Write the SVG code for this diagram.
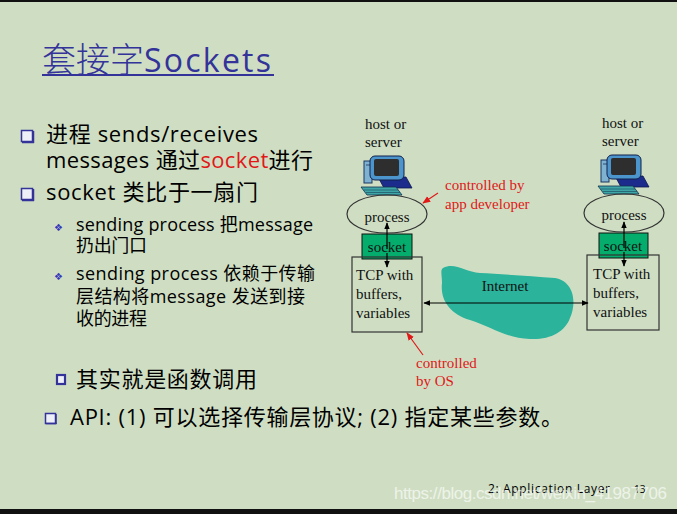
<svg xmlns="http://www.w3.org/2000/svg" width="677" height="514" viewBox="0 0 677 514">
<style>
.cjk{font-family:"Open Sans","Noto Sans CJK SC",sans-serif;}
.body{font-size:22px;fill:#000;}
.sub{font-size:18px;fill:#000;}
.ser{font-family:"Liberation Serif","Noto Sans CJK SC",serif;font-size:15px;fill:#111;}
.red{fill:#e01818;}
.box{fill:none;stroke:#333;stroke-width:1.2;}
.sock{fill:#05ad6d;stroke:#111;stroke-width:1;}
.bul{fill:#eef0f8;stroke:#333399;stroke-width:1.5;}
.ln{stroke:#000;stroke-width:1.2;fill:none;}
.rl{stroke:#e01818;stroke-width:1.2;fill:none;}
</style>
<defs>
<marker id="ah" viewBox="0 0 10 10" refX="9" refY="5" markerWidth="7" markerHeight="7" orient="auto-start-reverse" markerUnits="userSpaceOnUse">
<path d="M0,1 L10,5 L0,9 Z" fill="#000"/>
</marker>
<marker id="rh" viewBox="0 0 10 10" refX="9" refY="5" markerWidth="8" markerHeight="8" orient="auto" markerUnits="userSpaceOnUse">
<path d="M0,1 L10,5 L0,9 Z" fill="#e01818"/>
</marker>
<g id="pc">
<rect x="364" y="161" width="8" height="22" fill="#7fb2d0" stroke="#1a3560" stroke-width="1"/>
<line x1="366" y1="165" x2="370" y2="165" stroke="#1a3560" stroke-width="0.8"/>
<polygon points="378,177 406,177 412,188 384,188" fill="#1c2c8c" stroke="#0c1650" stroke-width="0.8"/>
<rect x="370" y="156" width="34" height="24" rx="5" fill="#4b94cc" stroke="#10204a" stroke-width="1"/>
<rect x="374" y="159" width="25" height="17" rx="2" fill="#2e2e2e"/>
<polygon points="361,187 396,187 402,195 367,195" fill="#3fa6a8" stroke="#10304a" stroke-width="0.8"/>
<line x1="364" y1="190" x2="398" y2="190" stroke="#10304a" stroke-width="0.5"/>
<line x1="366" y1="192.5" x2="400" y2="192.5" stroke="#10304a" stroke-width="0.5"/>
</g>
</defs>
<rect x="0" y="0" width="677" height="514" fill="#cfdec3"/>
<rect x="0" y="0" width="677" height="2" fill="#111"/>
<rect x="0" y="509" width="677" height="5" fill="#111"/>

<g id="title">
<text x="42" y="72" fill="#333399" class="cjk" font-size="32"><tspan font-size="34" font-family="Noto Sans CJK SC,sans-serif" font-weight="300">套接字</tspan><tspan textLength="127" lengthAdjust="spacing">Sockets</tspan></text>
<rect x="42" y="74" width="232" height="2" fill="#333399"/>
</g>

<g id="bullets">
<rect x="21.5" y="130.5" width="11" height="11" class="bul"/><line x1="33.5" y1="131" x2="33.5" y2="143" stroke="#333399" stroke-width="1.5"/><line x1="22" y1="142.5" x2="34" y2="142.5" stroke="#333399" stroke-width="1.5"/>
<text x="46" y="142" class="cjk body" textLength="212">进程 sends/receives</text>
<text x="46" y="168" class="cjk body" textLength="267">messages 通过<tspan class="red">socket</tspan>进行</text>
<rect x="21.5" y="188.5" width="11" height="11" class="bul"/><line x1="33.5" y1="189" x2="33.5" y2="201" stroke="#333399" stroke-width="1.5"/><line x1="22" y1="200.5" x2="34" y2="200.5" stroke="#333399" stroke-width="1.5"/>
<text x="46" y="200" class="cjk body" textLength="212">socket 类比于一扇门</text>

<text x="54" y="231" font-family="DejaVu Sans,sans-serif" font-size="10" fill="#3333bb">❖</text>
<text x="76" y="231" class="cjk sub" textLength="237">sending process 把message</text>
<text x="76" y="252" class="cjk sub" textLength="71">扔出门口</text>
<text x="54" y="280" font-family="DejaVu Sans,sans-serif" font-size="10" fill="#3333bb">❖</text>
<text x="76" y="280" class="cjk sub" textLength="239">sending process 依赖于传输</text>
<text x="76" y="303" class="cjk sub" textLength="229">层结构将message 发送到接</text>
<text x="76" y="325" class="cjk sub" textLength="71">收的进程</text>

<rect x="57" y="375" width="8" height="9" fill="#eef0f8" stroke="#333399" stroke-width="2.2"/>
<text x="76" y="387" class="cjk body" textLength="181">其实就是函数调用</text>
<rect x="45.5" y="413.5" width="10" height="10" class="bul"/><line x1="56" y1="414" x2="56" y2="424" stroke="#333399" stroke-width="1.5"/><line x1="46" y1="423.5" x2="56.5" y2="423.5" stroke="#333399" stroke-width="1.5"/>
<text x="70" y="425" class="cjk body" textLength="493">API: (1) 可以选择传输层协议; (2) 指定某些参数。</text>
</g>

<g id="hostL">
<text x="365" y="129" class="ser">host or</text>
<text x="365" y="147" class="ser">server</text>
<use href="#pc"/>
</g>
<g id="hostR">
<text x="602" y="128" class="ser">host or</text>
<text x="602" y="146" class="ser">server</text>
<use href="#pc" transform="translate(237,-1)"/>
</g>

<g id="processL"><ellipse cx="387" cy="214" rx="40" ry="19" class="box"/><text x="387" y="222" class="ser" text-anchor="middle">process</text></g>
<g id="socketL"><rect x="362" y="234" width="50" height="25" class="sock"/><text x="387" y="252" class="ser" text-anchor="middle">socket</text></g>
<g id="tcpL"><rect x="352" y="257" width="70" height="75" class="box"/>
<text x="356" y="280" class="ser">TCP with</text><text x="356" y="299" class="ser">buffers,</text><text x="356" y="318" class="ser">variables</text></g>

<g id="processR"><ellipse cx="624" cy="213" rx="40" ry="19" class="box"/><text x="624" y="220" class="ser" text-anchor="middle">process</text></g>
<g id="socketR"><rect x="599" y="233" width="49" height="25" class="sock"/><text x="623" y="251" class="ser" text-anchor="middle">socket</text></g>
<g id="tcpR"><rect x="587" y="255" width="72" height="75" class="box"/>
<text x="593" y="279" class="ser">TCP with</text><text x="593" y="298" class="ser">buffers,</text><text x="593" y="317" class="ser">variables</text></g>

<g id="internet">
<path d="M443,268 C455,262 465,272 480,273 C500,274 530,276 555,278 C576,282 576,305 570,318 C565,332 550,340 530,339 C505,338 490,326 470,320 C450,314 440,300 442,283 C442,275 440,270 443,268 Z" fill="#2bb39b"/>
<text x="505" y="291" class="ser" text-anchor="middle">Internet</text>
</g>

<g id="notes">
<text x="445" y="190" class="ser red">controlled by</text>
<text x="445" y="209" class="ser red">app developer</text>
<text x="416" y="368" class="ser red">controlled</text>
<text x="416" y="386" class="ser red">by OS</text>
</g>

<g id="connectors">
<line x1="387" y1="249" x2="387" y2="223" class="ln" marker-end="url(#ah)"/>
<line x1="387" y1="253" x2="387" y2="267" class="ln" marker-end="url(#ah)"/>
<line x1="624" y1="248" x2="624" y2="222" class="ln" marker-end="url(#ah)"/>
<line x1="624" y1="252" x2="624" y2="266" class="ln" marker-end="url(#ah)"/>
<line x1="424" y1="303" x2="588" y2="303" class="ln" marker-start="url(#ah)" marker-end="url(#ah)"/>
<line x1="438" y1="193" x2="423" y2="203" class="rl" marker-end="url(#rh)"/>
<line x1="423" y1="355" x2="407" y2="333" class="rl" marker-end="url(#rh)"/>
</g>

<g id="footer">
<text x="488" y="493" font-family="Open Sans,sans-serif" font-size="12" fill="#000" textLength="122">2: Application Layer</text>
<text x="634" y="493" font-family="Open Sans,sans-serif" font-size="10" fill="#000">13</text>
<text x="394" y="499" font-family="Liberation Sans,sans-serif" font-size="17" fill="#ffffff" fill-opacity="0.65" textLength="273">https://blog.csdn.net/weixin_41987706</text>
</g>
</svg>
